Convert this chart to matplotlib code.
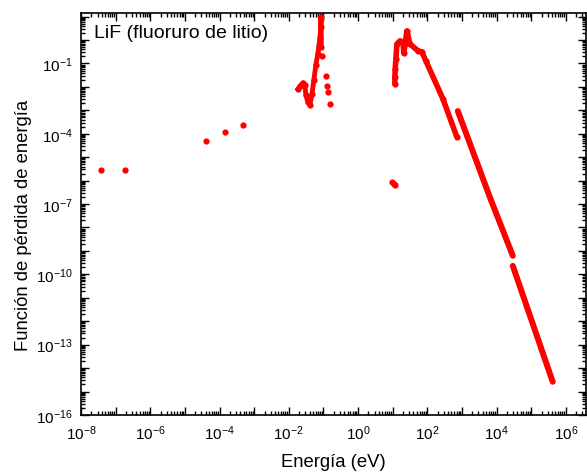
import numpy as np
import matplotlib
matplotlib.use('Agg')
import matplotlib.pyplot as plt
from matplotlib.ticker import LogLocator, FuncFormatter, NullFormatter

plt.rcParams['font.family'] = ['Liberation Sans', 'DejaVu Sans']
plt.rcParams['mathtext.fontset'] = 'custom'
plt.rcParams['mathtext.rm'] = 'Liberation Sans'

# isolated low-energy points
lowE = [3.8e-8, 1.9e-7, 4.0e-5, 1.45e-4, 4.8e-4]
lowL = [2.9e-6, 2.9e-6, 4.9e-5, 1.2e-4, 2.4e-4]

# cluster around 0.02 - 0.1 eV
c1E = [0.0184, 0.021, 0.0257, 0.029, 0.0313, 0.0357, 0.0408, 0.0467, 0.0532,
       0.0608, 0.0695, 0.074, 0.0794, 0.0848, 0.0848, 0.0875]
c1L = [0.0081, 0.0105, 0.015, 0.012, 0.0045, 0.0022, 0.0017, 0.0048, 0.020,
       0.090, 0.26, 0.55, 1.2, 3.6, 9.7, 0.5]
c1tailE = [0.09, 0.118, 0.126, 0.135, 0.154]
c1tailL = [0.2, 0.030, 0.011, 0.0061, 0.0019]

# points near 10 eV
c2dotE = [9.5, 10.6, 11.4]
c2dotL = [8.7e-7, 7.2e-7, 6.4e-7]
c2E = [11.6, 11.6, 11.9, 12.4, 13.3, 16.2, 19.8, 21.1, 23.0, 25.8, 31.5,
       53.6, 69.8, 91, 283, 715]
c2L = [0.0135, 0.027, 0.06, 0.155, 0.68, 0.91, 0.80, 0.28, 0.7, 2.45, 0.68,
       0.35, 0.31, 0.13, 3.1e-3, 7.4e-5]

# high-energy tails
s2E = [764, 6.4e3, 2.96e4]
s2L = [9.3e-4, 2.0e-7, 6.2e-10]
s3E = [2.96e4, 4.2e5]
s3L = [2.3e-10, 2.6e-15]

fig = plt.figure(figsize=(5.87, 4.77), dpi=100)
ax = fig.add_axes([0.138, 0.128, 0.860, 0.843])

red = '#ff0000'
ax.plot(lowE, lowL, 'o', color=red, ms=4.5, mec='none')
ax.plot(c1E, c1L, 'o-', color=red, ms=4.5, lw=3.5, mec='none')
ax.plot(c1tailE, c1tailL, 'o', color=red, ms=4.5, mec='none')
ax.plot(c2dotE, c2dotL, 'o', color=red, ms=4.5, mec='none')
ax.plot(c2E, c2L, 'o-', color=red, ms=4.5, lw=4, mec='none', solid_capstyle='round')
ax.plot(s2E, s2L, '-', color=red, lw=4.3, solid_capstyle='round')
ax.plot(s3E, s3L, '-', color=red, lw=4.3, solid_capstyle='round')

ax.set_xscale('log')
ax.set_yscale('log')
ax.set_xlim(1e-8, 3.8e6)
ax.set_ylim(1e-16, 14.5)

ax.xaxis.set_major_locator(LogLocator(base=10, numticks=30))
ax.yaxis.set_major_locator(LogLocator(base=10, numticks=30))
ax.xaxis.set_minor_locator(LogLocator(base=10, subs=np.arange(2, 10), numticks=30))
ax.yaxis.set_minor_locator(LogLocator(base=10, subs=np.arange(2, 10), numticks=30))
ax.xaxis.set_minor_formatter(NullFormatter())
ax.yaxis.set_minor_formatter(NullFormatter())


def xfmt(v, pos):
    e = int(round(np.log10(v)))
    return r'$\mathregular{10^{%d}}$' % e if e % 2 == 0 else ''


def yfmt(v, pos):
    e = int(round(np.log10(v)))
    return r'$\mathregular{10^{%d}}$' % e if e % 3 == 2 else ''


ax.xaxis.set_major_formatter(FuncFormatter(xfmt))
ax.yaxis.set_major_formatter(FuncFormatter(yfmt))

ax.tick_params(which='both', direction='in', top=True, right=True, width=1, labelsize=11)
ax.tick_params(which='major', length=6, pad=6)
ax.tick_params(which='minor', length=3)
for s in ax.spines.values():
    s.set_linewidth(1.2)

ax.set_xlabel('Energía (eV)', fontsize=13.3, labelpad=8)
ax.set_ylabel('Función de pérdida de energía', fontsize=13.3)
ax.yaxis.set_label_coords(-0.098, 0.475)
ax.text(0.025, 0.95, 'LiF (fluoruro de litio)', transform=ax.transAxes,
        fontsize=14, va='center', ha='left')

fig.savefig('out.png', dpi=100)
